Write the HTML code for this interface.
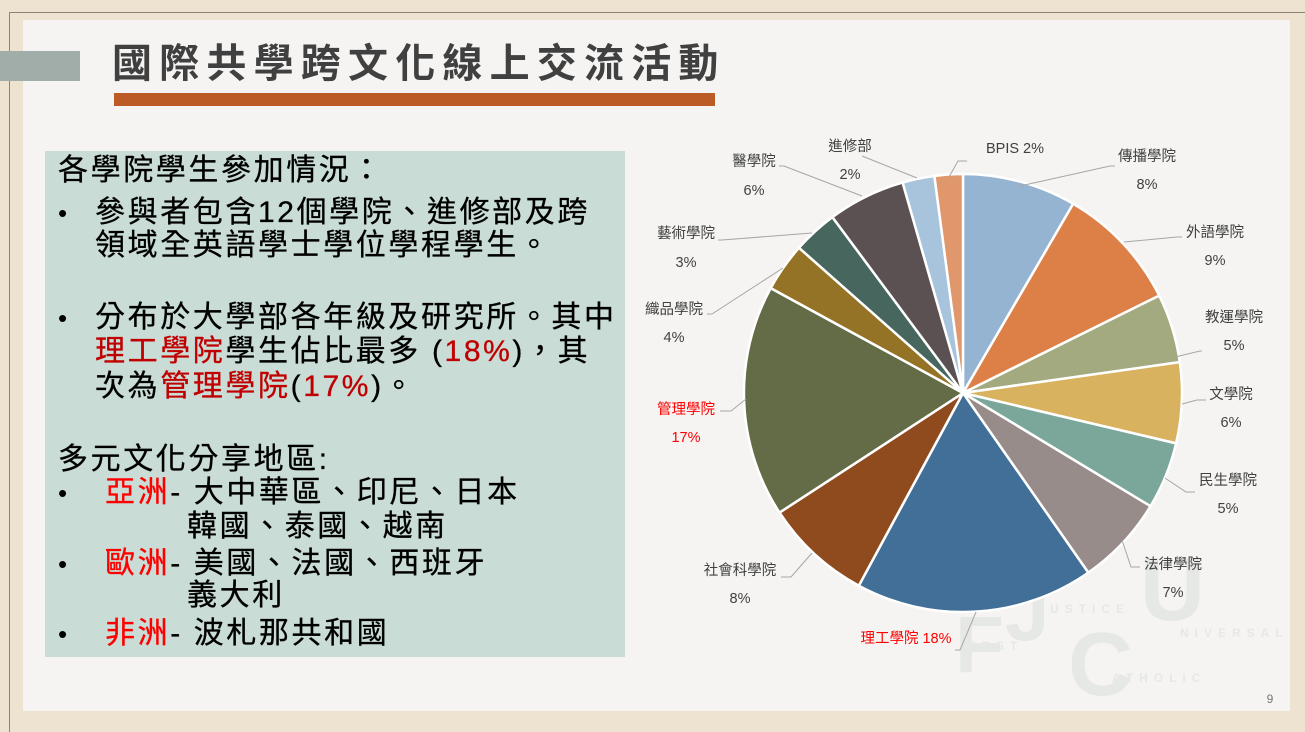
<!DOCTYPE html>
<html><head><meta charset="utf-8"><style>
body{margin:0;width:1305px;height:732px;background:#ede3d0;position:relative;overflow:hidden;font-family:"Liberation Sans","Noto Sans CJK TC",sans-serif}
.a{position:absolute}
.t{position:absolute;left:58px;font-size:30px;letter-spacing:2.6px;color:#000;white-space:nowrap;line-height:34px;-webkit-text-stroke:0.3px #000}
.r{color:#c00000;-webkit-text-stroke:0.3px #c00000}
.rr{color:#ff0000;-webkit-text-stroke:0.3px #ff0000}
.b{position:absolute;left:58px;font-size:26px;line-height:34px}
</style></head><body>
<div class="a" style="left:9px;top:12px;width:1300px;height:1px;background:#8a8578"></div>
<div class="a" style="left:9px;top:12px;width:1px;height:720px;background:#8a8578"></div>
<div class="a" style="left:23px;top:20px;width:1267px;height:691px;background:#f5f4f2"></div>
<div class="a" style="left:0;top:51px;width:80px;height:30px;background:#a0ada8"></div>
<div class="a" style="left:112px;top:40px;font-size:40px;letter-spacing:7.2px;color:#404040;font-weight:bold;white-space:nowrap;line-height:48px">國際共學跨文化線上交流活動</div>
<div class="a" style="left:114px;top:93px;width:601px;height:13px;background:#bb5b25"></div>
<div class="a" style="left:45px;top:151px;width:580px;height:506px;background:#c9dcd6"></div>
<div class="t" style="top:154px">各學院學生參加情況：</div>
<div class="b" style="top:196px">•</div>
<div class="t" style="left:95px;top:196px">參與者包含12個學院、進修部及跨</div>
<div class="t" style="left:95px;top:229px">領域全英語學士學位學程學生。</div>
<div class="b" style="top:301px">•</div>
<div class="t" style="left:95px;top:301px">分布於大學部各年級及研究所。其中</div>
<div class="t" style="left:95px;top:335px"><span class="r">理工學院</span>學生佔比最多 (<span class="r">18%</span>)，其</div>
<div class="t" style="left:95px;top:370px">次為<span class="r">管理學院</span>(<span class="r">17%</span>)。</div>
<div class="t" style="top:443px">多元文化分享地區:</div>
<div class="b" style="top:476px">•</div>
<div class="t" style="left:105px;top:476px"><span class="rr">亞洲</span>- 大中華區、印尼、日本</div>
<div class="t" style="left:187px;top:510px">韓國、泰國、越南</div>
<div class="b" style="top:547px">•</div>
<div class="t" style="left:105px;top:547px"><span class="rr">歐洲</span>- 美國、法國、西班牙</div>
<div class="t" style="left:187px;top:579px">義大利</div>
<div class="b" style="top:617px">•</div>
<div class="t" style="left:105px;top:617px"><span class="rr">非洲</span>- 波札那共和國</div>
<svg class="a" style="left:0;top:0" width="1305" height="732">
<g fill="#e6e8e5" font-family="Liberation Sans,sans-serif" font-weight="bold">
<text x="955" y="672" font-size="80">F</text><text x="1005" y="640" font-size="80">J</text>
<text x="1068" y="695" font-size="90">C</text><text x="1140" y="620" font-size="90">U</text>
<text x="1050" y="613" font-size="12" letter-spacing="6">USTICE</text>
<text x="1180" y="637" font-size="12" letter-spacing="6">NIVERSAL</text>
<text x="972" y="650" font-size="12" letter-spacing="6">IRST</text>
<text x="1112" y="682" font-size="12" letter-spacing="6">ATHOLIC</text>
</g>
<g stroke="#fff" stroke-width="2.5" stroke-linejoin="round">
<path d="M963,393 L963,174 A219,219 0 0 1 1073.2,203.8Z" fill="#95b4d2"/>
<path d="M963,393 L1073.2,203.8 A219,219 0 0 1 1159.2,295.6Z" fill="#dd8048"/>
<path d="M963,393 L1159.2,295.6 A219,219 0 0 1 1179.8,362.1Z" fill="#a4aa80"/>
<path d="M963,393 L1179.8,362.1 A219,219 0 0 1 1176.1,443.4Z" fill="#d8b25e"/>
<path d="M963,393 L1176.1,443.4 A219,219 0 0 1 1150.5,506.2Z" fill="#7ba69a"/>
<path d="M963,393 L1150.5,506.2 A219,219 0 0 1 1088.3,572.6Z" fill="#978c8a"/>
<path d="M963,393 L1088.3,572.6 A219,219 0 0 1 858.8,585.7Z" fill="#426f97"/>
<path d="M963,393 L858.8,585.7 A219,219 0 0 1 779.5,512.6Z" fill="#8f4a1e"/>
<path d="M963,393 L779.5,512.6 A219,219 0 0 1 770.7,288.1Z" fill="#646b47"/>
<path d="M963,393 L770.7,288.1 A219,219 0 0 1 799.0,247.8Z" fill="#957326"/>
<path d="M963,393 L799.0,247.8 A219,219 0 0 1 832.4,217.1Z" fill="#46665e"/>
<path d="M963,393 L832.4,217.1 A219,219 0 0 1 902.6,182.5Z" fill="#5b5152"/>
<path d="M963,393 L902.6,182.5 A219,219 0 0 1 934.4,176.0Z" fill="#a8c4dc"/>
<path d="M963,393 L934.4,176.0 A219,219 0 0 1 963,174Z" fill="#e0976c"/>
</g>
<g stroke="#a6a6a6" stroke-width="1" fill="none">
<polyline points="949,177 958,161 967,161"/>
<polyline points="1020,186 1110,166 1115,166"/>
<polyline points="1124,242 1177,237 1182,237"/>
<polyline points="1175,357 1200,351 1202,351"/>
<polyline points="1182,404 1197,400 1206,400"/>
<polyline points="1165,478 1186,492 1195,492"/>
<polyline points="1122,540 1131,567 1140,567"/>
<polyline points="976,612 960,650 955,650"/>
<polyline points="812,553 791,577 781,577"/>
<polyline points="746,399 731,411 720,411"/>
<polyline points="783,268 712,314 707,314"/>
<polyline points="812,233 722,240 718,240"/>
<polyline points="862,196 784,166 779,166"/>
<polyline points="917,178 862,156"/>
</g>
<g font-family="Liberation Sans,Noto Sans CJK TC,sans-serif" font-size="14.5" fill="#404040" text-anchor="middle">
<text x="1015" y="153">BPIS 2%</text>
<text x="1147" y="161">傳播學院</text><text x="1147" y="189">8%</text>
<text x="1215" y="237">外語學院</text><text x="1215" y="265">9%</text>
<text x="1234" y="322">教運學院</text><text x="1234" y="350">5%</text>
<text x="1231" y="399">文學院</text><text x="1231" y="427">6%</text>
<text x="1228" y="485">民生學院</text><text x="1228" y="513">5%</text>
<text x="1173" y="569">法律學院</text><text x="1173" y="597">7%</text>
<text x="906" y="643" fill="#ff0000">理工學院 18%</text>
<text x="740" y="575">社會科學院</text><text x="740" y="603">8%</text>
<text x="686" y="414" fill="#ff0000">管理學院</text><text x="686" y="442" fill="#ff0000">17%</text>
<text x="674" y="314">織品學院</text><text x="674" y="342">4%</text>
<text x="686" y="238">藝術學院</text><text x="686" y="267">3%</text>
<text x="754" y="166">醫學院</text><text x="754" y="195">6%</text>
<text x="850" y="151">進修部</text><text x="850" y="179">2%</text>
<text x="1270" y="703" font-size="12" fill="#777">9</text>
</g>
</svg>
</body></html>
